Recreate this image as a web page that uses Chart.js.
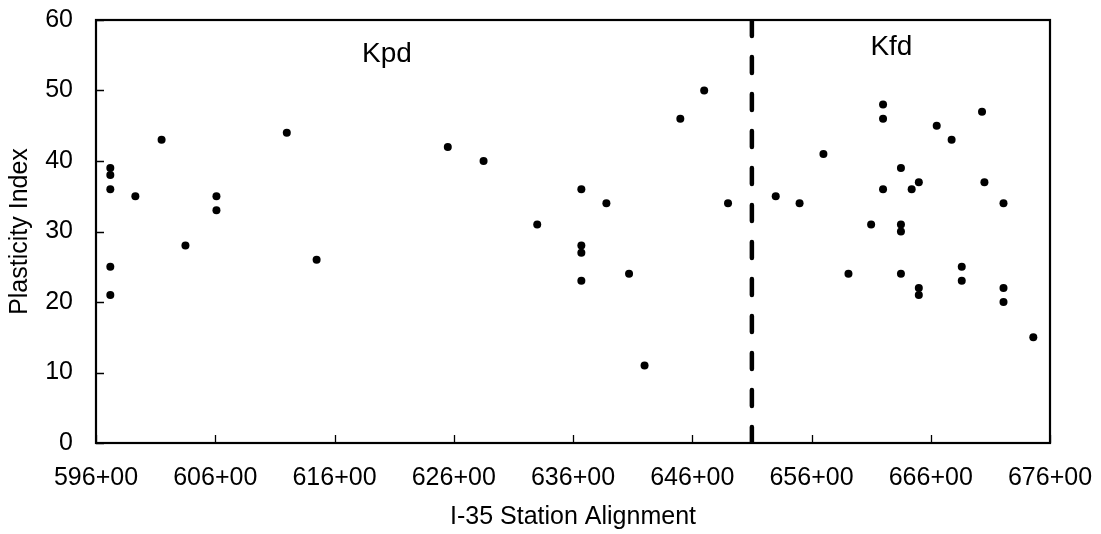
<!DOCTYPE html>
<html>
<head>
<meta charset="utf-8">
<script src="https://cdn.jsdelivr.net/npm/chart.js@4/dist/chart.umd.min.js"></script>
<style>
  html, body { margin: 0; padding: 0; background: #fff; }
  #wrap { width: 1101px; height: 534px; }
</style>
</head>
<body>
<div id="wrap"><canvas id="piChart" width="1101" height="534"></canvas></div>
<script>
// Station (hundreds of ft) and plasticity index for each sample
const stations = [
    597.2, 597.2, 597.2, 597.2, 597.2, 599.3, 601.5, 603.5, 606.1, 606.1,
    612.0, 614.5, 625.5, 628.5, 633.0, 636.7, 636.7, 636.7, 636.7, 638.8,
    640.7, 642.0, 645.0, 647.0, 649.0,
    653.0, 655.0, 657.0, 659.1, 661.0, 662.0, 662.0, 662.0, 663.5, 663.5,
    663.5, 663.5, 664.4, 665.0, 665.0, 665.0, 666.5, 667.75, 668.6, 668.6,
    670.3, 670.5, 672.1, 672.1, 672.1, 674.6
];
const plasticity = [
    39, 38, 36, 25, 21, 35, 43, 28, 35, 33,
    44, 26, 42, 40, 31, 36, 28, 27, 23, 34,
    24, 11, 46, 50, 34,
    35, 34, 41, 24, 31, 48, 46, 36, 39, 31,
    30, 24, 36, 37, 22, 21, 45, 43, 25, 23,
    47, 37, 34, 22, 20, 15
];

// Formation boundary and zone labels
const boundaryStation = 651;
const zoneLabels = ['Kpd', 'Kfd'];
const zoneLabelPos = [[620.4, 54.1], [662.7, 55.0]];

const xTicks = [596, 606, 616, 626, 636, 646, 656, 666, 676];
const yTicks = [0, 10, 20, 30, 40, 50, 60];

const FONT = 'Arial, "Liberation Sans", sans-serif';

// Frame around the plot, inward tick marks and zone labels
const framePlugin = {
    id: 'frame',
    afterDraw(chart) {
        const { ctx, chartArea: a, scales } = chart;
        ctx.save();
        ctx.strokeStyle = '#000';
        ctx.lineWidth = 1.3;
        ctx.beginPath();
        xTicks.forEach(v => {
            const px = Math.round(scales.x.getPixelForValue(v)) + 0.5;
            ctx.moveTo(px, a.bottom);
            ctx.lineTo(px, a.bottom - 8);
        });
        yTicks.forEach(v => {
            const py = Math.round(scales.y.getPixelForValue(v)) + 0.5;
            ctx.moveTo(a.left, py);
            ctx.lineTo(a.left + 8, py);
        });
        ctx.stroke();

        ctx.lineWidth = 2.2;
        ctx.strokeRect(a.left, a.top, a.right - a.left, a.bottom - a.top);

        ctx.fillStyle = '#000';
        ctx.font = '28px ' + FONT;
        ctx.textAlign = 'center';
        ctx.textBaseline = 'alphabetic';
        zoneLabels.forEach((t, i) => {
            const [sx, sy] = zoneLabelPos[i];
            ctx.fillText(t, scales.x.getPixelForValue(sx), scales.y.getPixelForValue(sy));
        });
        ctx.restore();
    }
};

const points = stations.map((s, i) => ({ x: s, y: plasticity[i] }));

new Chart(document.getElementById('piChart'), {
    type: 'scatter',
    data: {
        datasets: [
            {
                label: 'Plasticity Index',
                data: points,
                pointRadius: 4,
                pointBackgroundColor: '#000',
                pointBorderWidth: 0,
                order: 1
            },
            {
                label: 'Boundary',
                type: 'line',
                data: [{ x: boundaryStation, y: 60 }, { x: boundaryStation, y: 0 }],
                borderColor: '#000',
                borderWidth: 4.5,
                borderDash: [16, 21],
                borderCapStyle: 'round',
                pointRadius: 0,
                fill: false,
                order: 2
            }
        ]
    },
    options: {
        responsive: false,
        animation: false,
        layout: { padding: { left: 0, top: 20, right: 51, bottom: 0 } },
        plugins: {
            legend: { display: false },
            tooltip: { enabled: false }
        },
        scales: {
            x: {
                type: 'linear',
                min: 596,
                max: 676,
                afterFit: s => {
                    s.height = 91;
                    s.paddingLeft = 0;
                    s.paddingRight = 0;
                },
                afterBuildTicks: s => { s.ticks = xTicks.map(v => ({ value: v })); },
                grid: { display: false, drawTicks: false },
                border: { display: false },
                ticks: {
                    padding: 20,
                    color: '#000',
                    font: { family: FONT, size: 25 },
                    maxRotation: 0,
                    callback: v => v + '+00'
                },
                title: {
                    display: true,
                    text: 'I-35 Station Alignment',
                    color: '#000',
                    font: { family: FONT, size: 25 },
                    padding: { top: 0, bottom: 2 }
                }
            },
            y: {
                min: 0,
                max: 60,
                afterFit: s => {
                    s.width = 96;
                    s.paddingTop = 0;
                    s.paddingBottom = 0;
                },
                afterBuildTicks: s => { s.ticks = yTicks.map(v => ({ value: v })); },
                grid: { display: false, drawTicks: false },
                border: { display: false },
                ticks: {
                    padding: 23,
                    color: '#000',
                    font: { family: FONT, size: 25 }
                },
                title: {
                    display: true,
                    text: 'Plasticity Index',
                    color: '#000',
                    font: { family: FONT, size: 25 },
                    padding: { top: 5, bottom: 0 }
                }
            }
        }
    },
    plugins: [framePlugin]
});
</script>
</body>
</html>
